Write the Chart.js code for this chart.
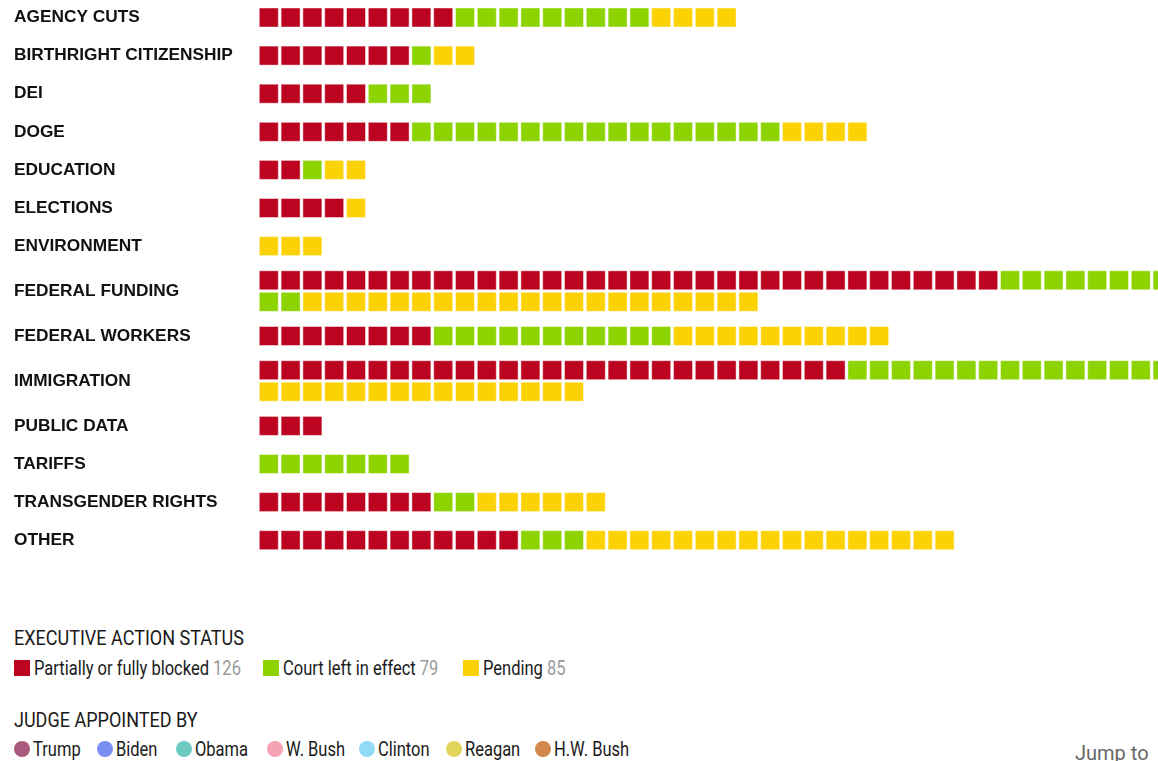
<!DOCTYPE html>
<html>
<head>
<meta charset="utf-8">
<script src="https://cdn.jsdelivr.net/npm/chart.js@4.4.1/dist/chart.umd.min.js"></script>
<style>
  html, body { margin: 0; padding: 0; background: #fff; width: 1158px; height: 761px; overflow: hidden; }
  #wrap { position: relative; width: 1158px; height: 761px; overflow: hidden; }
  #chart { position: absolute; left: 0; top: 0; }
  .lg { position: absolute; font-family: Roboto, "Liberation Sans", sans-serif; font-size: 20px; color: #1a1a1a; white-space: nowrap; line-height: 20px; transform-origin: 0 50%; }
  .sw { position: absolute; width: 16px; height: 16px; }
  .dot { position: absolute; width: 16px; height: 16px; border-radius: 50%; }
  .cnt { color: #9a9a9a; }
</style>
</head>
<body>
<div id="wrap">
  <canvas id="chart" width="1200" height="570"></canvas>
  <div id="legend"></div>
</div>
<script>
// ---- data ----
const categories = ['AGENCY CUTS', 'BIRTHRIGHT CITIZENSHIP', 'DEI', 'DOGE', 'EDUCATION', 'ELECTIONS', 'ENVIRONMENT', 'FEDERAL FUNDING', 'FEDERAL WORKERS', 'IMMIGRATION', 'PUBLIC DATA', 'TARIFFS', 'TRANSGENDER RIGHTS', 'OTHER'];
const blocked  = [9, 7, 5, 7, 2, 4, 0, 34, 8, 27, 3, 0, 8, 12];
const inEffect = [9, 1, 3, 17, 1, 0, 0, 10, 11, 15, 0, 7, 2, 3];
const pending  = [4, 2, 0, 4, 2, 1, 3, 21, 10, 15, 0, 0, 6, 17];
const statusLabels = ['Partially or fully blocked', 'Court left in effect', 'Pending'];
const judgeLabels = ['Trump', 'Biden', 'Obama', 'W. Bush', 'Clinton', 'Reagan', 'H.W. Bush'];
const legendTitles = ['EXECUTIVE ACTION STATUS', 'JUDGE APPOINTED BY'];

// ---- styles / layout ----
const statusColors = ['#bc0421', '#8cd300', '#fcd204'];
const judgeColors = ['#a9597b', '#7b8ef2', '#6ccac3', '#f5a3b3', '#90dcf8', '#e3d45c', '#d2884b'];
const PER_ROW = 42;
const CELL = 21.8;
const SQUARE = 19;
const AREA_LEFT = 257.9;
const LABEL_LEFT = 14;
const FIRST_Y = 17.5, ROW_GAP = 21.5, GAP_SINGLE = 38.1, GAP_WRAP = 34.2;
const canvas = document.getElementById('chart');
const W = canvas.width, H = canvas.height;

// build waffle cells
const series = [blocked, inEffect, pending];
const cells = [[], [], []];
const labelY = [];
let y = FIRST_Y, prevRows = 1;
categories.forEach((cat, i) => {
  const total = blocked[i] + inEffect[i] + pending[i];
  const rows = Math.max(1, Math.ceil(total / PER_ROW));
  if (i > 0) y += (rows > 1 || prevRows > 1) ? GAP_WRAP : GAP_SINGLE;
  const rowYs = [];
  for (let r = 0; r < rows; r++) rowYs.push(y + r * ROW_GAP);
  let k = 0;
  series.forEach((arr, s) => {
    for (let n = 0; n < arr[i]; n++, k++) {
      cells[s].push({ x: k % PER_ROW, y: rowYs[Math.floor(k / PER_ROW)] });
    }
  });
  labelY.push(rowYs.reduce((a, b) => a + b, 0) / rows);
  y = rowYs[rows - 1];
  prevRows = rows;
});

new Chart(canvas, {
  type: 'scatter',
  data: {
    datasets: series.map((arr, s) => ({
      label: statusLabels[s],
      data: cells[s],
      backgroundColor: statusColors[s],
      borderColor: 'rgba(255,255,255,0.45)',
      borderWidth: 1,
      pointStyle: 'rect',
      pointRadius: SQUARE / Math.SQRT2,
      pointHoverRadius: SQUARE / Math.SQRT2
    }))
  },
  options: {
    responsive: false,
    devicePixelRatio: 1,
    animation: false,
    events: [],
    layout: { autoPadding: false, padding: { left: LABEL_LEFT, right: 0, top: 0, bottom: 0 } },
    plugins: { legend: { display: false }, tooltip: { enabled: false } },
    scales: {
      x: {
        type: 'linear', display: false,
        min: -0.5, max: -0.5 + (W - AREA_LEFT) / CELL
      },
      y: {
        type: 'linear', reverse: true, min: 0, max: H,
        grid: { display: false }, border: { display: false },
        afterBuildTicks: (scale) => { scale.ticks = labelY.map(v => ({ value: v })); },
        afterFit: (scale) => { scale.width = AREA_LEFT - LABEL_LEFT; scale.paddingTop = 0; scale.paddingBottom = 0; },
        ticks: {
          crossAlign: 'far', padding: 0, autoSkip: false,
          color: '#111',
          font: { family: '"Liberation Sans", Arial, sans-serif', size: 17.3, weight: 'bold' },
          callback: (value, idx) => categories[idx]
        }
      }
    }
  }
});

// ---- HTML legend ----
const lg = document.getElementById('legend');
// condense the legend font to the reference's narrow face
const mctx = document.createElement('canvas').getContext('2d');
mctx.font = '20px Roboto, "Liberation Sans", sans-serif';
const SQUEEZE = 175 / mctx.measureText(statusLabels[0]).width;
const TITLE_SQUEEZE = 230 / mctx.measureText(legendTitles[0]).width;
function add(html, cls, left, top, extra, squeeze) {
  const d = document.createElement('div');
  d.className = cls; d.style.left = left + 'px'; d.style.top = top + 'px';
  if (extra) Object.assign(d.style, extra);
  if (squeeze) d.style.transform = 'scaleX(' + squeeze + ')';
  d.innerHTML = html; lg.appendChild(d); return d;
}
add(legendTitles[0], 'lg', 14, 628, null, TITLE_SQUEEZE);
const totals = series.map(a => a.reduce((p, c) => p + c, 0));
const statusX = [14, 263, 463];
statusLabels.forEach((t, s) => {
  add('', 'sw', statusX[s], 660, { background: statusColors[s] });
  add(t + ' <span class="cnt">' + totals[s] + '</span>', 'lg', statusX[s] + 20, 658, null, SQUEEZE);
});
add(legendTitles[1], 'lg', 14, 710, null, TITLE_SQUEEZE);
const judgeX = [14, 97, 176, 267, 359, 446, 535];
judgeLabels.forEach((t, j) => {
  add('', 'dot', judgeX[j], 741, { background: judgeColors[j] });
  add(t, 'lg', judgeX[j] + 19, 739, null, SQUEEZE);
});
add('Jump to &nbsp;&#9662;', 'lg', 1075, 743, { color: '#666' }, 0);
</script>
</body>
</html>
